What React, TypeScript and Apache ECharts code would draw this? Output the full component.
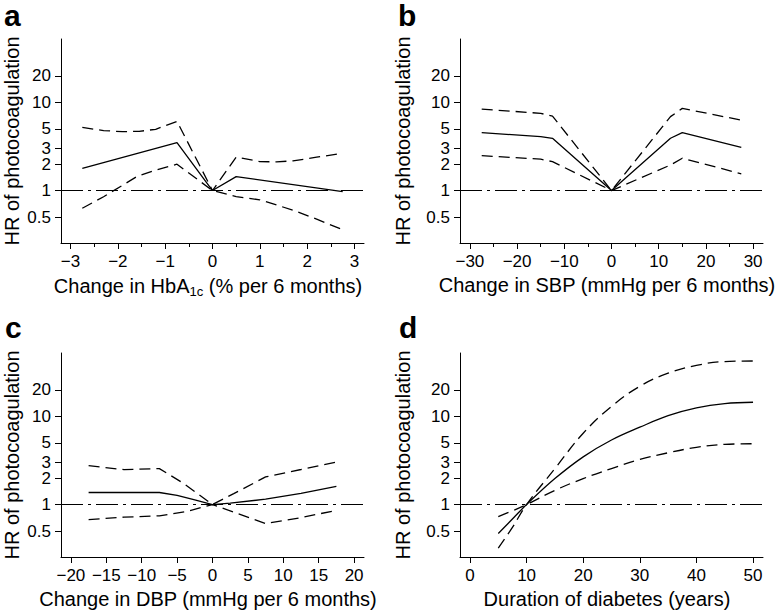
import React, { useEffect, useRef } from "react";
import * as echarts from "echarts";

const FONT = "Liberation Sans, Arial, Helvetica, sans-serif";

// shared y axis (hazard ratio, log scale)
const yTicks = [0.5, 1, 2, 3, 5, 10, 20];
const yMin = 0.254;
const yMax = 52.5;
const yName = "HR of photocoagulation";

// Panel a: change in HbA1c
const aTicks = [-3, -2, -1, 0, 1, 2, 3];
const aMinorTicks = [-2.5, -1.5, -0.5, 0.5, 1.5, 2.5];
const aHrX = [-2.75, -0.75, 0, 0.5, 2.75];
const aHr = [1.79, 3.5, 1, 1.44, 0.97];
const aUpperX = [-2.75, -2.3, -1.9, -1.55, -1.2, -0.75, 0, 0.5, 1.0, 1.35, 1.7, 2.2, 2.75];
const aUpper = [5.2, 4.8, 4.66, 4.7, 4.96, 6.1, 1, 2.4, 2.13, 2.12, 2.17, 2.39, 2.65];
const aLowerX = [-2.75, -2.3, -1.6, -1.2, -0.75, 0, 0.5, 1.0, 1.7, 2.2, 2.75];
const aLower = [0.63, 0.85, 1.44, 1.71, 1.99, 1, 0.855, 0.785, 0.6, 0.474, 0.359];

// Panel b: change in SBP
const bTicks = [-30, -20, -10, 0, 10, 20, 30];
const bMinorTicks = [-25, -15, -5, 5, 15, 25];
const bX = [-27.5, -15, -12.5, 0, 12.5, 15, 27.5];
const bHr = [4.54, 4.1, 3.92, 1, 3.92, 4.54, 3.1];
const bUpper = [8.42, 7.52, 7.0, 1, 6.9, 8.57, 6.3];
const bLower = [2.49, 2.27, 2.13, 1, 1.95, 2.33, 1.55];

// Panel c: change in DBP
const cTicks = [-20, -15, -10, -5, 0, 5, 10, 15, 20];
const cHrX = [-17.5, -7.5, -5, -2.5, 0, 2.5, 7.5, 12.5, 17.5];
const cHr = [1.37, 1.37, 1.27, 1.13, 1, 1.04, 1.15, 1.34, 1.61];
const cUpperX = [-17.5, -12.5, -7.5, -4, 0, 3, 7.5, 12.5, 17.5];
const cUpper = [2.76, 2.49, 2.56, 1.72, 1, 1.33, 2.06, 2.5, 3.04];
const cLowerX = [-17.5, -12.5, -7.5, -3.5, 0, 3, 7.5, 12.5, 17.5];
const cLower = [0.676, 0.72, 0.745, 0.84, 1, 0.82, 0.61, 0.71, 0.86];

// Panel d: duration of diabetes
const dTicks = [0, 10, 20, 30, 40, 50];
const dX = [5, 7.5, 10, 15, 20, 25, 30, 35, 40, 45, 50];
const dHr = [0.47, 0.685, 1, 1.97, 3.48, 5.4, 7.55, 10.2, 12.5, 14, 14.5];
const dUpper = [0.32, 0.55, 1, 2.56, 6.45, 13, 22, 31, 38, 42, 42.6];
const dLower = [0.73, 0.85, 1, 1.45, 1.97, 2.56, 3.25, 3.87, 4.46, 4.82, 4.9];

const pairs = (xs: number[], ys: number[]) => xs.map((x, i) => [x, ys[i]]);
const fmtX = (v: number) => (v < 0 ? "\u2212" + Math.abs(v) : String(v));
const fmtY = (v: number) => String(Number(Number(v).toFixed(2)));

const rich = {
  m: { fontSize: 20, lineHeight: 24, fontFamily: FONT, color: "#000" },
  s: { fontSize: 13, fontFamily: FONT, color: "#000", padding: [12, 0, 0, 0] },
};

type PanelCfg = {
  grid: { left: number; top: number; width: number; height: number };
  xMin: number;
  xMax: number;
  ticks: number[];
  minor?: number[];
  xName: string;
  yGap: number;
  solid: number[][];
  upper: number[][];
  lower: number[][];
  smooth: boolean;
};

function buildOption(panels: PanelCfg[]) {
  const grid: any[] = [];
  const xAxis: any[] = [];
  const yAxis: any[] = [];
  const series: any[] = [];
  const axisColor = { color: "#000", width: 1 };
  panels.forEach((p, i) => {
    grid.push({ ...p.grid, containLabel: false });
    const xIdx = xAxis.length;
    xAxis.push({
      type: "value",
      gridIndex: i,
      position: "bottom",
      min: p.xMin,
      max: p.xMax,
      axisLine: { show: true, onZero: false, lineStyle: axisColor },
      axisTick: { show: true, customValues: p.ticks, length: 6, lineStyle: axisColor },
      axisLabel: {
        customValues: p.ticks,
        formatter: fmtX,
        margin: 11,
        fontSize: 17,
        lineHeight: 14,
        fontFamily: FONT,
        color: "#000",
      },
      splitLine: { show: false },
      name: p.xName,
      nameLocation: "middle",
      nameGap: 30,
      nameTextStyle: { rich, padding: [0, 9, 0, 0] },
    });
    if (p.minor) {
      xAxis.push({
        type: "value",
        gridIndex: i,
        position: "bottom",
        min: p.xMin,
        max: p.xMax,
        axisLine: { show: false, onZero: false },
        axisTick: { show: true, customValues: p.minor, length: 4, lineStyle: axisColor },
        axisLabel: { show: false },
        splitLine: { show: false },
      });
    }
    yAxis.push({
      type: "log",
      logBase: 10,
      gridIndex: i,
      min: yMin,
      max: yMax,
      axisLine: { show: true, onZero: false, lineStyle: axisColor },
      axisTick: { show: true, customValues: yTicks, length: 6, lineStyle: axisColor },
      axisLabel: {
        customValues: yTicks,
        formatter: fmtY,
        margin: 10,
        fontSize: 17,
        lineHeight: 14,
        fontFamily: FONT,
        color: "#000",
      },
      splitLine: { show: false },
      minorTick: { show: false },
      name: yName,
      nameLocation: "middle",
      nameGap: p.yGap,
      nameTextStyle: { fontSize: 20, fontFamily: FONT, color: "#000" },
    });
    const base = {
      type: "line",
      xAxisIndex: xIdx,
      yAxisIndex: i,
      symbol: "none",
      showSymbol: false,
      smooth: p.smooth ? 0.4 : false,
      silent: true,
    };
    series.push({
      ...base,
      data: p.solid,
      lineStyle: { color: "#000", width: 1.3 },
      z: 3,
      markLine: {
        silent: true,
        symbol: ["none", "none"],
        label: { show: false },
        lineStyle: { color: "#000", width: 1.2, type: [22, 5, 3, 5] },
        data: [{ yAxis: 1 }],
      },
    });
    series.push({
      ...base,
      data: p.upper,
      lineStyle: { color: "#000", width: 1.3, type: [11, 6] },
    });
    series.push({
      ...base,
      data: p.lower,
      lineStyle: { color: "#000", width: 1.3, type: [11, 6] },
    });
  });

  const titleStyle = { fontSize: 30, fontWeight: "bold", fontFamily: FONT, color: "#000" };
  return {
    animation: false,
    backgroundColor: "#fff",
    title: [
      { text: "a", left: 4, top: 0, padding: 0, textStyle: titleStyle },
      { text: "b", left: 398, top: 0, padding: 0, textStyle: titleStyle },
      { text: "c", left: 5, top: 312, padding: 0, textStyle: titleStyle },
      { text: "d", left: 399, top: 312, padding: 0, textStyle: titleStyle },
    ],
    grid,
    xAxis,
    yAxis,
    series,
  };
}

export default function App() {
  const ref = useRef<HTMLDivElement>(null);
  useEffect(() => {
    document.body.style.margin = "0";
    if (!ref.current) return;
    const chart = echarts.init(ref.current, undefined, { renderer: "svg" });
    const panels: PanelCfg[] = [
      {
        grid: { left: 61, top: 39, width: 303, height: 204 },
        xMin: -3.2,
        xMax: 3.2,
        ticks: aTicks,
        minor: aMinorTicks,
        xName: "{m|Change in HbA}{s|1c}{m| (% per 6 months)}",
        yGap: 39,
        solid: pairs(aHrX, aHr),
        upper: pairs(aUpperX, aUpper),
        lower: pairs(aLowerX, aLower),
        smooth: false,
      },
      {
        grid: { left: 460, top: 39, width: 303, height: 204 },
        xMin: -32.1,
        xMax: 32.1,
        ticks: bTicks,
        minor: bMinorTicks,
        xName: "{m|Change in SBP (mmHg per 6 months)}",
        yGap: 47,
        solid: pairs(bX, bHr),
        upper: pairs(bX, bUpper),
        lower: pairs(bX, bLower),
        smooth: false,
      },
      {
        grid: { left: 61, top: 353, width: 303, height: 204 },
        xMin: -21.4,
        xMax: 21.4,
        ticks: cTicks,
        xName: "{m|Change in DBP (mmHg per 6 months)}",
        yGap: 39,
        solid: pairs(cHrX, cHr),
        upper: pairs(cUpperX, cUpper),
        lower: pairs(cLowerX, cLower),
        smooth: false,
      },
      {
        grid: { left: 460, top: 353, width: 303, height: 204 },
        xMin: -1.76,
        xMax: 51.76,
        ticks: dTicks,
        xName: "{m|Duration of diabetes (years)}",
        yGap: 47,
        solid: pairs(dX, dHr),
        upper: pairs(dX, dUpper),
        lower: pairs(dX, dLower),
        smooth: true,
      },
    ];
    chart.setOption(buildOption(panels) as any);
    return () => chart.dispose();
  }, []);
  return <div ref={ref} style={{ width: 780, height: 615 }} />;
}
